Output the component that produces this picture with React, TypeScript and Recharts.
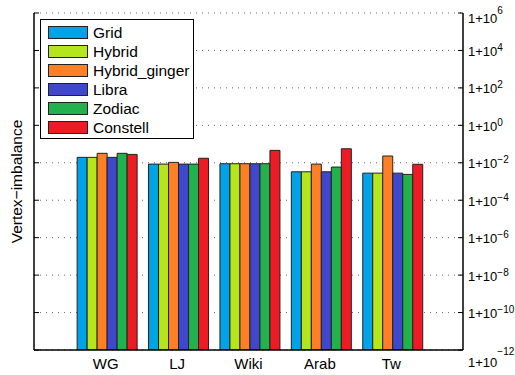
import { BarChart, Bar, XAxis, YAxis, CartesianGrid, Legend } from 'recharts';

// Datasets on the x axis
const datasets = ['WG', 'LJ', 'Wiki', 'Arab', 'Tw'];

// Vertex imbalance per partitioner (log scale)
const grid = [0.0195, 0.0085, 0.0089, 0.0033, 0.0028];
const hybrid = [0.0195, 0.0085, 0.0089, 0.0033, 0.0028];
const hybridGinger = [0.032, 0.0105, 0.0089, 0.0085, 0.023];
const libra = [0.0195, 0.0085, 0.0089, 0.0033, 0.0028];
const zodiac = [0.032, 0.0085, 0.0089, 0.0059, 0.0024];
const constell = [0.028, 0.0174, 0.046, 0.056, 0.0083];

const yTicks = [1e-12, 1e-10, 1e-8, 1e-6, 1e-4, 1e-2, 1, 1e2, 1e4, 1e6];

const series = [
  { key: 'grid', name: 'Grid', values: grid, color: '#00a2e8' },
  { key: 'hybrid', name: 'Hybrid', values: hybrid, color: '#b5e61d' },
  { key: 'hybridGinger', name: 'Hybrid_ginger', values: hybridGinger, color: '#ff7f27' },
  { key: 'libra', name: 'Libra', values: libra, color: '#3f48cc' },
  { key: 'zodiac', name: 'Zodiac', values: zodiac, color: '#22b14c' },
  { key: 'constell', name: 'Constell', values: constell, color: '#ed1c24' },
];

const data = datasets.map((name, i) => {
  const row: Record<string, string | number> = { name };
  series.forEach(s => {
    row[s.key] = s.values[i];
  });
  return row;
});

const FONT = '"Liberation Sans", Arial, Helvetica, sans-serif';

// "1+10^n" labels on the right axis, ticks drawn pointing into the plot
const PowerTick = (props: any) => {
  const { x, y, payload } = props;
  const exp = Math.round(Math.log10(payload.value));
  const expText = exp < 0 ? `\u2212${Math.abs(exp)}` : `${exp}`;
  let mainDy = 5.5;
  let supDy = 0.5;
  if (exp === 6) mainDy = 10;
  if (exp === -12) {
    mainDy = 17;
    supDy = 5;
  }
  return (
    <g>
      <line x1={x - 5} x2={x - 10} y1={y} y2={y} stroke="#000" strokeWidth={1} />
      <text x={x} y={y} fill="#000" fontSize={13} fontFamily={FONT} textAnchor="start">
        <tspan y={y + mainDy}>1+10</tspan>
        <tspan y={y + supDy} fontSize={10}>{expText}</tspan>
      </text>
    </g>
  );
};

// inward tick marks on the left and top frame edges
const LeftTick = (props: any) => {
  const { x, y } = props;
  return <line x1={x} x2={x + 5} y1={y} y2={y} stroke="#000" strokeWidth={1} />;
};

const TopTick = (props: any) => {
  const { x, y } = props;
  return <line x1={x} x2={x} y1={y} y2={y + 5} stroke="#000" strokeWidth={1} />;
};

const LegendBox = () => (
  <div
    style={{
      background: '#fff',
      border: '1px solid #000',
      width: 152,
      padding: '3px 0 1px 0',
      fontFamily: FONT,
      fontSize: 15.5,
      color: '#000',
    }}
  >
    {series.map(s => (
      <div key={s.key} style={{ display: 'flex', alignItems: 'center', height: 19 }}>
        <span
          style={{
            display: 'inline-block',
            width: 38,
            height: 11,
            marginLeft: 7,
            marginRight: 5,
            background: s.color,
            border: '1px solid #222',
          }}
        />
        <span>{s.name}</span>
      </div>
    ))}
  </div>
);

export default function App() {
  return (
    <div style={{ position: 'absolute', left: 0, top: 0, background: '#fff' }}>
      <BarChart
        width={515}
        height={375}
        data={data}
        margin={{ top: 13, right: 0, bottom: 0, left: 0 }}
        barCategoryGap="10%"
        barGap={0}
        style={{ fontFamily: FONT }}
      >
        <CartesianGrid vertical={false} stroke="#666" strokeDasharray="1 5" />
        <XAxis
          dataKey="name"
          height={25}
          padding={{ left: 36, right: 36 }}
          tickLine={false}
          tickSize={0}
          tickMargin={8}
          axisLine={{ stroke: '#000', strokeWidth: 1.5 }}
          tick={{ fill: '#000', fontSize: 15 }}
        />
        <XAxis
          xAxisId="top"
          dataKey="name"
          orientation="top"
          height={0}
          padding={{ left: 36, right: 36 }}
          tickLine={false}
          tickSize={0}
          tickMargin={0}
          axisLine={{ stroke: '#000', strokeWidth: 1.5 }}
          tick={<TopTick />}
        />
        <YAxis
          orientation="right"
          width={52}
          type="number"
          scale="log"
          domain={[1e-12, 1e6]}
          ticks={yTicks}
          allowDataOverflow
          tickLine={false}
          tickSize={0}
          tickMargin={5}
          axisLine={{ stroke: '#000', strokeWidth: 1.5 }}
          tick={<PowerTick />}
        />
        <YAxis
          yAxisId="left"
          orientation="left"
          width={34}
          type="number"
          scale="log"
          domain={[1e-12, 1e6]}
          ticks={yTicks}
          allowDataOverflow
          tickLine={false}
          tickSize={0}
          tickMargin={0}
          axisLine={{ stroke: '#000', strokeWidth: 1.5 }}
          tick={<LeftTick />}
          label={{ value: 'Vertex\u2212imbalance', angle: -90, position: 'center', dx: -1, fill: '#000', fontSize: 15.5 }}
        />
        <Legend
          layout="vertical"
          align="center"
          verticalAlign="middle"
          wrapperStyle={{ left: 40, top: 19, width: 'auto' }}
          content={<LegendBox />}
        />
        {series.map(s => (
          <Bar
            key={s.key}
            dataKey={s.key}
            name={s.name}
            fill={s.color}
            stroke="#222"
            strokeWidth={1}
            isAnimationActive={false}
          />
        ))}
      </BarChart>
    </div>
  );
}
